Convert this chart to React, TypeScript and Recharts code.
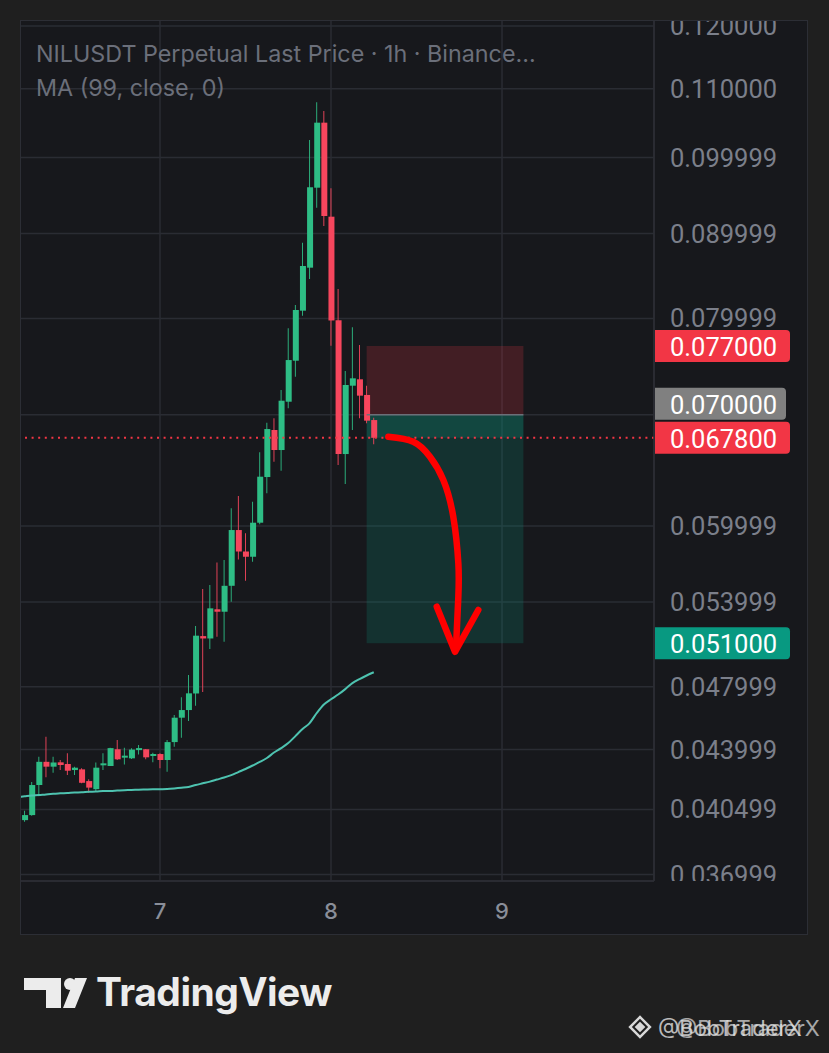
import React from "react";
import {
  ComposedChart,
  Bar,
  Line,
  XAxis,
  YAxis,
  CartesianGrid,
  ReferenceArea,
  ReferenceLine,
  Cell,
} from "recharts";

// hours relative to day 7 00:00 (1h candles)
const hours = [
  -20, -19, -18, -17, -16, -15, -14, -13, -12, -11, -10, -9, -8, -7, -6, -5, -4, -3, -2, -1,
  0, 1, 2, 3, 4, 5, 6, 7, 8, 9, 10, 11, 12, 13, 14, 15, 16, 17, 18, 19, 20, 21, 22, 23, 24,
  25, 26, 27, 28, 29, 30,
];

const opens = [
  0.04057, 0.0399, 0.04018, 0.04189, 0.04326, 0.04297, 0.04323, 0.04313, 0.04277, 0.04281,
  0.04212, 0.04165, 0.04305, 0.04301, 0.04402, 0.04351, 0.04347, 0.04397, 0.04402, 0.04361,
  0.04373, 0.04337, 0.04446, 0.04599, 0.04648, 0.04756, 0.0515, 0.05133, 0.05345, 0.05327,
  0.05522, 0.05966, 0.05791, 0.05749, 0.06027, 0.06421, 0.06854, 0.06666, 0.07128, 0.07545,
  0.08087, 0.08584, 0.09591, 0.10496, 0.09213, 0.0798, 0.06629, 0.07288, 0.07353, 0.07195,
  0.06949,
];

const highs = [
  0.04068, 0.04042, 0.04206, 0.04357, 0.04479, 0.04357, 0.04337, 0.04377, 0.04297, 0.04287,
  0.04223, 0.04322, 0.04377, 0.04411, 0.04459, 0.04411, 0.04408, 0.04428, 0.04403, 0.04381,
  0.04377, 0.04459, 0.04616, 0.04731, 0.04879, 0.05222, 0.05497, 0.05528, 0.05703, 0.05723,
  0.06149, 0.06254, 0.05939, 0.06205, 0.06645, 0.06923, 0.06966, 0.07245, 0.07892, 0.08151,
  0.08887, 0.10248, 0.10798, 0.10668, 0.09584, 0.08334, 0.07438, 0.07903, 0.07711, 0.07288,
  0.06972,
];

const lows = [
  0.03985, 0.03981, 0.04014, 0.04125, 0.04234, 0.04261, 0.04277, 0.04247, 0.04247, 0.04199,
  0.04144, 0.04155, 0.04277, 0.04301, 0.04337, 0.0431, 0.04343, 0.0437, 0.04341, 0.04323,
  0.04287, 0.04267, 0.04417, 0.04473, 0.04578, 0.04676, 0.04766, 0.05058, 0.05145, 0.0511,
  0.05401, 0.05727, 0.05561, 0.0571, 0.06014, 0.06278, 0.06559, 0.06477, 0.07063, 0.0738,
  0.08031, 0.08451, 0.09329, 0.09095, 0.07704, 0.06529, 0.06359, 0.06854, 0.06966, 0.06918,
  0.06719,
];

const closes = [
  0.0399, 0.04018, 0.04189, 0.04326, 0.04297, 0.04322, 0.04307, 0.04273, 0.04291, 0.04202,
  0.04174, 0.04291, 0.04317, 0.04409, 0.04341, 0.04361, 0.044, 0.04408, 0.04353, 0.04372,
  0.04337, 0.04446, 0.04599, 0.04648, 0.04757, 0.05153, 0.05133, 0.05352, 0.05327, 0.05522,
  0.05966, 0.05791, 0.05749, 0.06027, 0.06424, 0.06863, 0.06666, 0.07138, 0.07552, 0.08095,
  0.08604, 0.09597, 0.10496, 0.09222, 0.07978, 0.06629, 0.07295, 0.07363, 0.07188, 0.06943,
  0.0678,
];

const ma99 = [
  0.0412, 0.04124, 0.04128, 0.04131, 0.04135, 0.04138, 0.04141, 0.04143, 0.04146, 0.04147,
  0.0415, 0.04151, 0.04154, 0.04155, 0.04157, 0.04159, 0.0416, 0.04162, 0.04163, 0.04164,
  0.04165, 0.04166, 0.04169, 0.04173, 0.04178, 0.04189, 0.04199, 0.04209, 0.04221, 0.04233,
  0.04247, 0.04265, 0.04283, 0.04304, 0.04325, 0.04349, 0.04382, 0.04409, 0.0444, 0.04483,
  0.04527, 0.04565, 0.04629, 0.04684, 0.04718, 0.04749, 0.04785, 0.04825, 0.04852, 0.04876,
  0.04898,
];

const priceTicks = [
  0.036999, 0.040499, 0.043999, 0.047999, 0.053999, 0.059999, 0.069999, 0.079999, 0.089999,
  0.099999, 0.11, 0.12,
];
const hiddenTick = 0.069999;

const dayTicks = [0, 24, 48];
const dayLabels = ["7", "8", "9"];

// short position tool
const posStart = 29;
const posEnd = 51;
const entryPrice = 0.07;
const stopPrice = 0.077;
const targetPrice = 0.051;
const lastPrice = 0.0678;

// hand drawn arrow (hour, price)
const arrowCurve = [
  { t: 32.04, p: 0.0679 },
  { t: 35.55, p: 0.06743 },
  { t: 37.89, p: 0.06604 },
  { t: 39.76, p: 0.06395 },
  { t: 41.16, p: 0.06077 },
  { t: 41.87, p: 0.05697 },
  { t: 41.87, p: 0.05439 },
  { t: 41.54, p: 0.05065 },
];
const arrowHead = [
  { t: 38.84, p: 0.05364 },
  { t: 41.4, p: 0.05039 },
  { t: 44.67, p: 0.0534 },
];

const data = hours.map((t, i) => ({
  t,
  open: opens[i],
  high: highs[i],
  low: lows[i],
  close: closes[i],
  ma: ma99[i],
}));

const UP = "#2ebd85";
const DOWN = "#f6465d";
const GRID = "#2a2c33";
const FONT = "Inter, 'Noto Sans', sans-serif";
const NUM_FONT = "Roboto, 'Noto Sans', sans-serif";

const CHART_W = 788;
const CHART_H = 915;
const AXIS_W = 154;
const TIME_H = 54;
const PLOT_RIGHT = CHART_W - AXIS_W;
const PLOT_BOTTOM = CHART_H - TIME_H;

const PriceTick = (props: any) => {
  const { y, payload } = props;
  if (payload.value === hiddenTick) return null;
  return (
    <svg x={PLOT_RIGHT} y={0} width={AXIS_W} height={PLOT_BOTTOM} overflow="hidden">
      <text
        x={16}
        y={y}
        fill="#7b7f8a"
        fontSize={25.5}
        fontFamily={NUM_FONT}
        dominantBaseline="central"
      >
        {Number(payload.value).toFixed(6)}
      </text>
    </svg>
  );
};

const DayTick = (props: any) => {
  const { x, y, payload } = props;
  const idx = dayTicks.indexOf(payload.value);
  return (
    <text
      x={x}
      y={y + 30}
      fill="#8a8e99"
      fontSize={22}
      fontWeight={500}
      fontFamily={FONT}
      textAnchor="middle"
      dominantBaseline="central"
    >
      {dayLabels[idx]}
    </text>
  );
};

const Badge = (props: any) => {
  const { viewBox, text, color, shift = 0, w = 135 } = props;
  if (!viewBox) return null;
  const x = viewBox.x + viewBox.width + 1;
  const y = viewBox.y + shift;
  const h = 32;
  const r = 4;
  const top = y - h / 2;
  const d = `M${x},${top} H${x + w - r} Q${x + w},${top} ${x + w},${top + r} V${top + h - r} Q${x + w},${top + h} ${x + w - r},${top + h} H${x} Z`;
  return (
    <g>
      <path d={d} fill={color} />
      <text
        x={x + 15}
        y={y + 1}
        fill="#ffffff"
        fontSize={25.5}
        fontFamily={NUM_FONT}
        dominantBaseline="central"
      >
        {text}
      </text>
    </g>
  );
};

export default function App() {
  return (
    <div
      style={{
        position: "absolute",
        left: 0,
        top: 0,
        width: 829,
        height: 1053,
        background: "#1f1f1f",
        overflow: "hidden",
        fontFamily: FONT,
      }}
    >
      <div
        style={{
          position: "absolute",
          left: 20,
          top: 20,
          width: CHART_W,
          height: CHART_H,
          background: "#17181c",
        }}
      >
        <ComposedChart
          width={CHART_W}
          height={CHART_H}
          data={data}
          margin={{ top: 0, right: 0, bottom: 0, left: 0 }}
        >
          <CartesianGrid xAxisId="x" stroke={GRID} strokeWidth={1.5} />
          <XAxis
            xAxisId="x"
            dataKey="t"
            type="number"
            domain={[-19.65, 69.33]}
            allowDataOverflow
            ticks={dayTicks}
            height={TIME_H}
            tickSize={0}
            tickMargin={0}
            tickLine={false}
            axisLine={{ stroke: "#2c2e35", strokeWidth: 1.5 }}
            tick={<DayTick />}
            interval={0}
          />
          <XAxis
            xAxisId="xb"
            dataKey="t"
            type="number"
            domain={[-19.65, 69.33]}
            allowDataOverflow
            hide
          />
          <YAxis
            orientation="right"
            type="number"
            scale="log"
            domain={[0.03667, 0.12102]}
            allowDataOverflow
            ticks={priceTicks}
            width={AXIS_W}
            tickSize={0}
            tickMargin={0}
            tickLine={false}
            axisLine={{ stroke: "#2c2e35", strokeWidth: 1.5 }}
            tick={<PriceTick />}
            interval={0}
          />

          <ReferenceArea
            xAxisId="x"
            x1={posStart}
            x2={posEnd}
            y1={entryPrice}
            y2={stopPrice}
            fill="#f23645"
            fillOpacity={0.2}
            stroke="none"
          />
          <ReferenceArea
            xAxisId="x"
            x1={posStart}
            x2={posEnd}
            y1={targetPrice}
            y2={entryPrice}
            fill="#089981"
            fillOpacity={0.2}
            stroke="none"
          />
          <ReferenceArea
            xAxisId="x"
            x1={posStart}
            x2={posEnd}
            y1={lastPrice}
            y2={entryPrice}
            fill="#089981"
            fillOpacity={0.2}
            stroke="none"
          />
          <ReferenceLine
            xAxisId="x"
            segment={[
              { x: posStart, y: entryPrice },
              { x: posEnd, y: entryPrice },
            ]}
            stroke="#6c6f78"
            strokeWidth={1.5}
          />

          <Line
            xAxisId="x"
            dataKey="ma"
            type="monotone"
            stroke="#4ec3b0"
            strokeWidth={2}
            dot={false}
            isAnimationActive={false}
          />

          <ReferenceLine
            xAxisId="x"
            y={lastPrice}
            stroke="#f23645"
            strokeWidth={2}
            strokeDasharray="2 4.6"
            ifOverflow="visible"
            label={<Badge text="0.067800" color="#f23645" />}
          />
          <ReferenceLine
            xAxisId="x"
            y={stopPrice}
            stroke="none"
            strokeOpacity={0}
            ifOverflow="visible"
            label={<Badge text="0.077000" color="#f23645" />}
          />
          <ReferenceLine
            xAxisId="x"
            y={entryPrice}
            stroke="none"
            strokeOpacity={0}
            ifOverflow="visible"
            label={<Badge text="0.070000" color="#808080" shift={-11} w={131} />}
          />
          <ReferenceLine
            xAxisId="x"
            y={targetPrice}
            stroke="none"
            strokeOpacity={0}
            ifOverflow="visible"
            label={<Badge text="0.051000" color="#089981" />}
          />

          <Bar
            xAxisId="x"
            dataKey={(d: any) => [d.low, d.high]}
            barSize={1.5}
            isAnimationActive={false}
          >
            {data.map((d, i) => (
              <Cell key={`w-${i}`} fill={d.close >= d.open ? UP : DOWN} />
            ))}
          </Bar>
          <Bar
            xAxisId="xb"
            dataKey={(d: any) => [Math.min(d.open, d.close), Math.max(d.open, d.close)]}
            barSize={6}
            minPointSize={2}
            isAnimationActive={false}
          >
            {data.map((d, i) => (
              <Cell key={`b-${i}`} fill={d.close >= d.open ? UP : DOWN} />
            ))}
          </Bar>

          <Line
            xAxisId="x"
            data={arrowCurve}
            dataKey="p"
            type="natural"
            stroke="#ff0000"
            strokeWidth={6.5}
            strokeLinecap="round"
            dot={false}
            isAnimationActive={false}
          />
          <Line
            xAxisId="x"
            data={arrowHead}
            dataKey="p"
            type="linear"
            stroke="#ff0000"
            strokeWidth={6.5}
            strokeLinecap="round"
            strokeLinejoin="round"
            dot={false}
            isAnimationActive={false}
          />
        </ComposedChart>
      </div>
      <div
        style={{
          position: "absolute",
          left: 20,
          top: 20,
          width: CHART_W,
          height: CHART_H,
          border: "1.5px solid #2c2e35",
          boxSizing: "border-box",
          pointerEvents: "none",
        }}
      />

      <div
        style={{
          position: "absolute",
          left: 36,
          top: 39,
          fontSize: 23.3,
          lineHeight: "30px",
          color: "#6b6f7a",
          whiteSpace: "nowrap",
        }}
      >
        NILUSDT Perpetual Last Price · 1h · Binance...
      </div>
      <div
        style={{
          position: "absolute",
          left: 36,
          top: 73,
          fontSize: 23.3,
          lineHeight: "30px",
          color: "#6b6f7a",
          whiteSpace: "nowrap",
        }}
      >
        MA (99, close, 0)
      </div>

      <svg
        style={{ position: "absolute", left: 0, top: 960 }}
        width={400}
        height={70}
      >
        <rect x={24} y={18} width={37} height={12} fill="#ececec" />
        <rect x={46} y={18} width={15} height={30} fill="#ececec" />
        <circle cx={70} cy={24} r={6} fill="#ececec" />
        <polygon points="75,18 87,18 75,48 63,48" fill="#ececec" />
        <text
          x={96}
          y={46}
          fill="#ececec"
          fontSize={39}
          fontWeight={700}
          fontFamily={FONT}
          letterSpacing={-0.5}
        >
          TradingView
        </text>
      </svg>

      <svg
        style={{ position: "absolute", left: 620, top: 1005 }}
        width={209}
        height={45}
      >
        <g transform="translate(20,22) rotate(45)" fill="none" stroke="#d8d8d8" strokeWidth={2.5}>
          <rect x={-7} y={-7} width={14} height={14} />
          <rect x={-2.5} y={-2.5} width={5} height={5} fill="#d8d8d8" />
        </g>
        <text x={38} y={31} fill="#d6d6d6" fontSize={22} fontFamily={FONT} opacity={0.85}>
          @BobTraderX
        </text>
        <text x={56} y={31} fill="#e2e2e2" fontSize={22} fontFamily={FONT} opacity={0.7}>
          @BobTraderX
        </text>
      </svg>
    </div>
  );
}
